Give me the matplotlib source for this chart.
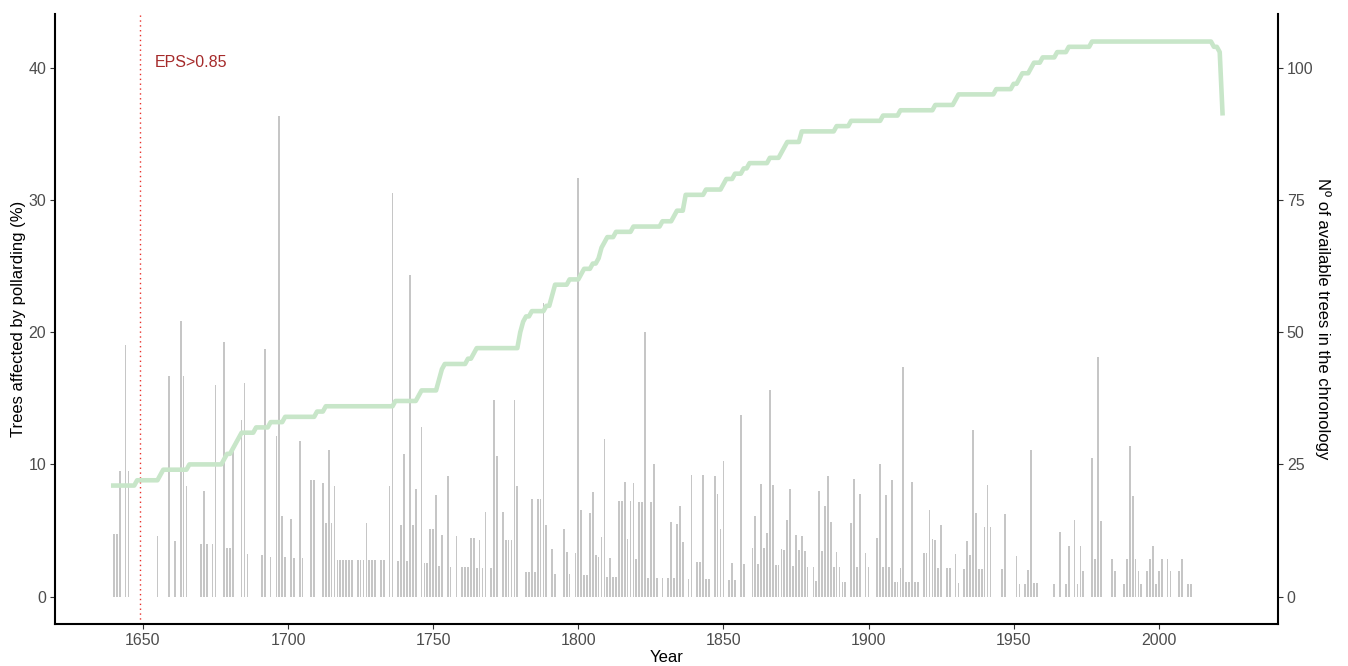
import matplotlib

matplotlib.use("Agg")
import matplotlib.pyplot as plt

plt.rcParams["font.family"] = ["Liberation Sans", "DejaVu Sans"]

# Share of trees showing a pollarding event per year (%)
years = [
    1640, 1641, 1642, 1644, 1645, 1655, 1659, 1661, 1663, 1664, 1665, 1670, 1671, 1672,
    1674, 1675, 1678, 1679, 1680, 1681, 1684, 1685, 1686, 1691, 1692, 1694, 1696, 1697,
    1698, 1699, 1701, 1702, 1704, 1705, 1708, 1709, 1712, 1713, 1714, 1715, 1716, 1717,
    1718, 1719, 1720, 1721, 1722, 1724, 1725, 1726, 1727, 1728, 1729, 1730, 1732, 1733,
    1735, 1736, 1738, 1739, 1740, 1741, 1742, 1743, 1744, 1746, 1747, 1748, 1749, 1750,
    1751, 1752, 1753, 1755, 1756, 1758, 1760, 1761, 1762, 1763, 1764, 1765, 1766, 1767,
    1768, 1770, 1771, 1772, 1774, 1775, 1776, 1777, 1778, 1779, 1782, 1783, 1784, 1785,
    1786, 1787, 1788, 1789, 1791, 1792, 1795, 1796, 1797, 1799, 1800, 1801, 1802, 1803,
    1804, 1805, 1806, 1807, 1808, 1809, 1810, 1811, 1812, 1813, 1814, 1815, 1816, 1817,
    1818, 1819, 1820, 1821, 1822, 1823, 1824, 1825, 1826, 1827, 1829, 1831, 1832, 1833,
    1834, 1835, 1836, 1838, 1839, 1841, 1842, 1843, 1844, 1845, 1847, 1848, 1849, 1850,
    1852, 1853, 1854, 1856, 1857, 1860, 1861, 1862, 1863, 1864, 1865, 1866, 1867, 1868,
    1869, 1870, 1871, 1872, 1873, 1874, 1875, 1876, 1877, 1878, 1879, 1881, 1882, 1883,
    1884, 1885, 1886, 1887, 1888, 1889, 1890, 1891, 1892, 1894, 1895, 1896, 1897, 1899,
    1900, 1903, 1904, 1905, 1906, 1907, 1908, 1909, 1910, 1911, 1912, 1913, 1914, 1915,
    1916, 1917, 1919, 1920, 1921, 1922, 1923, 1924, 1925, 1927, 1928, 1930, 1931, 1933,
    1934, 1935, 1936, 1937, 1938, 1939, 1940, 1941, 1942, 1946, 1947, 1951, 1952, 1954,
    1955, 1956, 1957, 1958, 1964, 1966, 1968, 1969, 1971, 1972, 1973, 1974, 1977, 1978,
    1979, 1980, 1984, 1985, 1988, 1989, 1990, 1991, 1992, 1993, 1994, 1996, 1997, 1998,
    1999, 2000, 2001, 2003, 2004, 2007, 2008, 2010, 2011,
]
affected = [
    4.76, 4.76, 9.52, 19.05, 9.52, 4.55, 16.67, 4.17, 20.83, 16.67, 8.33, 4.0, 8.0, 4.0,
    4.0, 16.0, 19.23, 3.7, 3.7, 11.11, 13.33, 16.13, 3.23, 3.13, 18.75, 3.03, 12.12, 36.36,
    6.06, 3.03, 5.88, 2.94, 11.76, 2.94, 8.82, 8.82, 8.57, 5.56, 11.11, 5.56, 8.33, 2.78,
    2.78, 2.78, 2.78, 2.78, 2.78, 2.78, 2.78, 2.78, 5.56, 2.78, 2.78, 2.78, 2.78, 2.78,
    8.33, 30.56, 2.7, 5.41, 10.81, 2.7, 24.32, 5.41, 8.11, 12.82, 2.56, 2.56, 5.13, 5.13,
    7.69, 2.33, 4.65, 9.09, 2.27, 4.55, 2.27, 2.27, 2.22, 4.44, 4.44, 2.13, 4.26, 2.13,
    6.38, 2.13, 14.89, 10.64, 6.38, 4.26, 4.26, 4.26, 14.89, 8.33, 1.85, 1.85, 7.41, 1.85,
    7.41, 7.41, 22.22, 5.45, 3.57, 1.69, 5.08, 3.39, 1.67, 3.33, 31.67, 6.56, 1.61, 1.61,
    6.35, 7.94, 3.13, 3.03, 4.48, 11.94, 1.47, 2.9, 1.45, 1.45, 7.25, 7.25, 8.7, 4.35,
    7.25, 8.57, 2.86, 7.14, 7.14, 20.0, 1.43, 7.14, 10.0, 1.43, 1.41, 1.41, 5.63, 1.41,
    5.48, 6.85, 4.11, 1.32, 9.21, 2.63, 2.63, 9.21, 1.3, 1.3, 9.09, 7.79, 5.13, 10.26,
    1.27, 2.53, 1.25, 13.75, 2.47, 3.66, 6.1, 2.44, 8.54, 3.66, 4.82, 15.66, 8.43, 2.41,
    2.41, 3.57, 3.53, 5.81, 8.14, 2.33, 4.65, 3.49, 4.55, 3.41, 2.27, 2.27, 1.14, 7.95,
    3.41, 6.82, 9.09, 5.62, 2.25, 3.37, 2.25, 1.12, 1.11, 5.56, 8.89, 2.22, 7.78, 3.33,
    2.22, 4.44, 10.0, 2.2, 7.69, 2.2, 8.79, 1.1, 1.1, 2.17, 17.39, 1.09, 1.09, 8.7,
    1.09, 1.09, 3.26, 3.26, 6.52, 4.35, 4.3, 2.15, 5.38, 2.15, 2.15, 3.19, 1.05, 2.11,
    4.21, 3.16, 12.63, 6.32, 2.11, 2.11, 5.26, 8.42, 5.26, 2.08, 6.25, 3.09, 0.97, 0.97,
    1.98, 11.11, 0.99, 0.99, 0.97, 4.85, 0.97, 3.85, 5.77, 0.96, 3.81, 1.9, 10.48, 2.86,
    18.1, 5.71, 2.86, 1.9, 0.95, 2.86, 11.43, 7.62, 2.86, 1.9, 0.95, 1.9, 2.86, 3.81,
    0.95, 1.9, 2.86, 2.86, 1.9, 1.9, 2.86, 0.95, 0.95,
]

# Trees available in the chronology: year where the count changes, new count
tree_years = [
    1639, 1648, 1656, 1657, 1666, 1678, 1679, 1681, 1682, 1683, 1684, 1689, 1694, 1699,
    1710, 1713, 1737, 1745, 1746, 1752, 1753, 1754, 1762, 1764, 1765, 1780, 1781, 1782,
    1784, 1789, 1791, 1792, 1797, 1801, 1802, 1805, 1807, 1808, 1809, 1810, 1813, 1819,
    1829, 1833, 1834, 1837, 1844, 1850, 1851, 1854, 1857, 1859, 1866, 1870, 1871, 1872,
    1877, 1889, 1894, 1905, 1911, 1923, 1930, 1931, 1944, 1950, 1952, 1953, 1956, 1957,
    1960, 1965, 1969, 1977, 2019, 2021, 2022,
]
tree_counts = [
    21, 22, 23, 24, 25, 26, 27, 28, 29, 30, 31, 32, 33, 34,
    35, 36, 37, 38, 39, 41, 43, 44, 45, 46, 47, 50, 52, 53,
    54, 55, 57, 59, 60, 61, 62, 63, 64, 66, 67, 68, 69, 70,
    71, 72, 73, 76, 77, 78, 79, 80, 81, 82, 83, 84, 85, 86,
    88, 89, 90, 91, 92, 93, 94, 95, 96, 97, 98, 99, 100, 101,
    102, 103, 104, 105, 104, 103, 91,
]

EPS_YEAR = 1649
EPS_LABEL = "EPS>0.85"
x_ticks = [1650, 1700, 1750, 1800, 1850, 1900, 1950, 2000]
left_ticks = [0, 10, 20, 30, 40]
right_ticks = [0, 25, 50, 75, 100]
SCALE = 2.5  # secondary axis = primary * 2.5

TICK_COLOR = "#4d4d4d"
BAR_COLOR = "#c6c6c6"
LINE_COLOR = "#c8e6c9"

# yearly line only changes at the listed years; hold previous count until then
line_x, line_y = [tree_years[0]], [tree_counts[0]]
for yr, prev, n in zip(tree_years[1:], tree_counts[:-1], tree_counts[1:]):
    if yr - 1 > line_x[-1]:
        line_x.append(yr - 1)
        line_y.append(prev)
    line_x.append(yr)
    line_y.append(n)

fig = plt.figure(figsize=(13.48, 6.66), dpi=100)
ax = fig.add_axes([0.0410, 0.0626, 0.9069, 0.9167])

ax.bar(years, affected, width=0.6, color=BAR_COLOR, linewidth=0, zorder=1)
ax.axvline(EPS_YEAR, color="#e8302a", linestyle=(0, (1, 2.5)), linewidth=1.0, zorder=2)
ax.text(1654, 40.4, EPS_LABEL, color="#a52a2a", fontsize=11.5, ha="left", va="center")

ax.set_xlim(1619.8, 2041.0)
ax.set_ylim(-2.1, 44.1)
ax.set_xticks(x_ticks)
ax.set_yticks(left_ticks)

ax2 = ax.twinx()
ax2.plot(line_x, line_y, color=LINE_COLOR, linewidth=3.3,
         solid_joinstyle="round", solid_capstyle="butt", zorder=3)
ax2.set_ylim(-2.1 * SCALE, 44.1 * SCALE)
ax2.set_yticks(right_ticks)

for a in (ax, ax2):
    a.spines["top"].set_visible(False)
    for s in a.spines.values():
        s.set_linewidth(1.5)
        s.set_color("black")
    a.tick_params(colors="#333333", labelcolor=TICK_COLOR, labelsize=11.5,
                  length=3.5, width=0.8, pad=3)
ax2.spines["left"].set_visible(False)
ax2.spines["bottom"].set_visible(False)
ax.spines["right"].set_visible(False)

ax.set_xlabel("Year", fontsize=12, labelpad=1)
ax.set_ylabel("Trees affected by pollarding (%)", fontsize=12, labelpad=1.5)
ax2.set_ylabel("Nº of available trees in the chronology", fontsize=12,
               rotation=-90, va="bottom", labelpad=1)

fig.savefig("out.png", dpi=100)
